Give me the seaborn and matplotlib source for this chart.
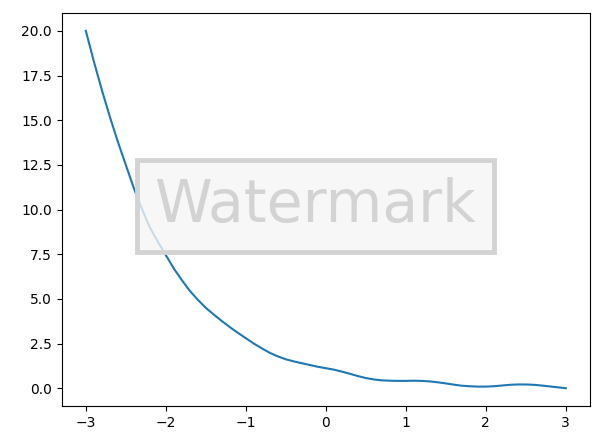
import matplotlib
matplotlib.use("Agg")
import matplotlib.pyplot as plt
import seaborn as sns

# values, every 0.1 on x
x = [-3.0, -2.9, -2.8, -2.7, -2.6, -2.5, -2.4, -2.3, -2.2, -2.1,
     -2.0, -1.9, -1.8, -1.7, -1.6, -1.5, -1.4, -1.3, -1.2, -1.1,
     -1.0, -0.9, -0.8, -0.7, -0.6, -0.5, -0.4, -0.3, -0.2, -0.1,
     0.0, 0.1, 0.2, 0.3, 0.4, 0.5, 0.6, 0.7, 0.8, 0.9,
     1.0, 1.1, 1.2, 1.3, 1.4, 1.5, 1.6, 1.7, 1.8, 1.9,
     2.0, 2.1, 2.2, 2.3, 2.4, 2.5, 2.6, 2.7, 2.8, 2.9, 3.0]
y = [20.0, 18.3, 16.7, 15.2, 13.8, 12.5, 11.2, 10.05, 9.0, 8.2,
     7.45, 6.7, 6.05, 5.45, 4.95, 4.5, 4.12, 3.76, 3.42, 3.1,
     2.8, 2.5, 2.23, 1.98, 1.78, 1.62, 1.5, 1.4, 1.3, 1.2,
     1.12, 1.04, 0.93, 0.81, 0.68, 0.57, 0.49, 0.44, 0.42, 0.41,
     0.41, 0.42, 0.41, 0.38, 0.33, 0.27, 0.2, 0.14, 0.11, 0.09,
     0.09, 0.11, 0.15, 0.19, 0.21, 0.21, 0.19, 0.15, 0.1, 0.05, 0.0]

fig, ax = plt.subplots(figsize=(6, 4.32), dpi=100)
fig.subplots_adjust(left=0.103, right=0.983, top=0.970, bottom=0.060)

sns.lineplot(x=x, y=y, ax=ax)

# watermark on top of the line
ax.text(0.48, 0.51, "Watermark", transform=ax.transAxes,
        ha="center", va="center", fontsize=42, color="lightgray",
        bbox=dict(boxstyle="square,pad=0.3", facecolor=(0.96, 0.96, 0.96, 0.8),
                  edgecolor="lightgray", linewidth=3.5))

fig.savefig("out.png")
